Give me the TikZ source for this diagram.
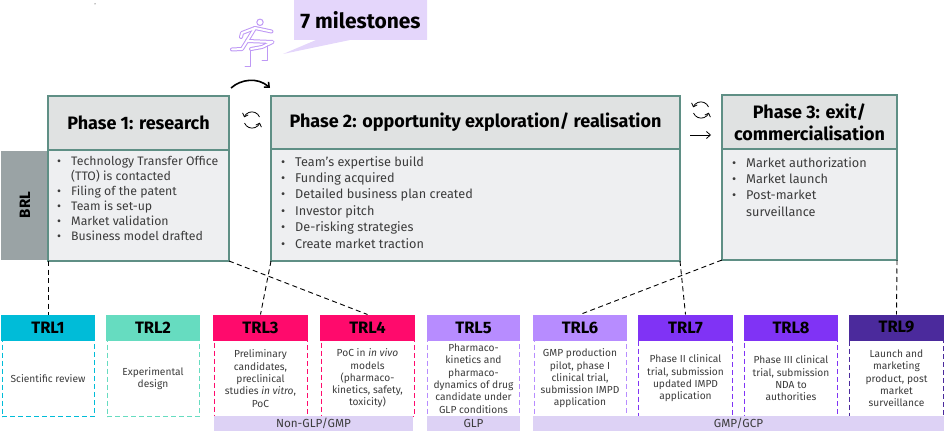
\documentclass[tikz,border=0pt]{standalone}
\usepackage{fontspec}
\setmainfont{Fira Sans}
\usetikzlibrary{arrows.meta,calc}
\definecolor{hdr}{HTML}{E0E2E2}
\definecolor{bodyc}{HTML}{EEEFF1}
\definecolor{edge}{HTML}{5F8F85}
\definecolor{brlc}{HTML}{9AA3A5}
\definecolor{tealc}{HTML}{00BCD8}
\definecolor{mint}{HTML}{66DCC0}
\definecolor{pinkc}{HTML}{FF0A6C}
\definecolor{lilac}{HTML}{B78CFF}
\definecolor{viol}{HTML}{8033F5}
\definecolor{deep}{HTML}{4B2A9C}
\definecolor{band}{HTML}{DDD2F5}
\definecolor{callout}{HTML}{E4D6FB}
\definecolor{icon}{HTML}{BE98F5}
\definecolor{txt}{HTML}{3C3C3C}
\newcommand{\nl}[1]{\makebox[14pt][l]{\textbullet}#1\\}
\newcommand{\nc}[1]{\hspace*{14pt}#1\\}
\tikzset{
 box/.style={draw=edge,line width=1.2pt,anchor=north west,inner sep=0pt,outer sep=0pt},
 phead/.style={box,fill=hdr,font=\fontsize{18}{22}\selectfont\bfseries,align=center,text=black},
 pbody/.style={box,fill=bodyc},
 blist/.style={anchor=north west,inner sep=0pt,align=left,text=txt,font=\fontsize{12.7}{16.4}\selectfont},
 thead/.style={anchor=north west,inner sep=0pt,outer sep=0pt,minimum height=26pt,text=black,font=\fontsize{16.5}{18}\selectfont\bfseries},
 tbody/.style={anchor=north west,inner sep=0pt,outer sep=0pt,minimum height=76pt,fill=white,line width=1pt,dash pattern=on 5pt off 3pt,
   align=center,text=txt,font=\fontsize{10.2}{12.3}\selectfont},
 bandn/.style={anchor=north west,fill=band,inner sep=0pt,outer sep=0pt,minimum height=15pt,text=txt,font=\fontsize{11.7}{12}\selectfont},
 link/.style={draw=black,line width=0.9pt,dash pattern=on 5pt off 3.5pt},
 hurd/.style={line cap=round,line join=round},
}
\newcommand{\cycleicon}[2]{%
 \draw[line width=0.8pt,-{Straight Barb[length=3pt,width=6pt]}] ($(#1,#2)+(7.5,-3)$) arc[start angle=-22,end angle=-160,radius=8.2];
 \draw[line width=0.8pt,-{Straight Barb[length=3pt,width=6pt]}] ($(#1,#2)+(-7.5,3)$) arc[start angle=158,end angle=20,radius=8.2];
}
\begin{document}
\begin{tikzpicture}[x=1pt,y=-1pt]
\useasboundingbox (0,0) rectangle (944,438);
% BRL
\node[anchor=north west,fill=brlc,minimum width=47pt,minimum height=109pt,inner sep=0pt,outer sep=0pt] (brl) at (1,151) {};
\node[rotate=90,font=\fontsize{15}{16}\selectfont\bfseries] (brltext) at (25,205) {BRL};
% Phases
\node[phead,minimum width=181pt,minimum height=54pt] (h1) at (48,96) {Phase 1: research};
\node[pbody,minimum width=181pt,minimum height=111pt] (p1) at (48,150) {};
\node[phead,minimum width=409pt,minimum height=53pt] (h2) at (271,96) {Phase 2: opportunity exploration/ realisation};
\node[pbody,minimum width=409pt,minimum height=112pt] (p2) at (271,149) {};
\node[phead,minimum width=175pt,minimum height=54pt] (h3) at (722,95) {Phase 3: exit/\\commercialisation};
\node[pbody,minimum width=175pt,minimum height=111pt] (p3) at (722,149) {};
\node[blist,font=\fontsize{12.3}{15}\selectfont] (l1) at (57,156.5) {\nl{Technology Transfer Office}\nc{(TTO) is contacted}\nl{Filing of the patent}\nl{Team is set-up}\nl{Market validation}\nl{Business model drafted}};
\node[blist] (l2) at (281,156) {\nl{Team's expertise build}\nl{Funding acquired}\nl{Detailed business plan created}\nl{Investor pitch}\nl{De-risking strategies}\nl{Create market traction}};
\node[blist] (l3) at (732,157) {\nl{Market authorization}\nl{Market launch}\nl{Post-market}\nc{surveillance}};
% TRL heads and bodies
\foreach \nm/\xx/\ww/\cc/\lab in {1/1/94/tealc/TRL1,2/106/94/mint/TRL2,3/213/95/pinkc/TRL3,4/320/95/pinkc/TRL4,5/427/93/lilac/TRL5,6/533/94/lilac/TRL6,7/638/95/viol/TRL7,8/744/94/viol/TRL8,9/849/95/deep/TRL9}{
  \node[thead,fill=\cc,minimum width=\ww pt] (trl\nm) at (\xx,314.5) {\lab};
}
\node[tbody,draw=tealc,minimum width=92pt] (d1) at (2,340.5) {Scientific review};
\node[tbody,draw=mint,minimum width=92pt] (d2) at (107,340.5) {Experimental\\design};
\node[tbody,draw=pinkc,minimum width=93pt] (d3) at (214,340.5) {Preliminary\\candidates,\\preclinical\\studies \emph{in vitro},\\PoC};
\node[tbody,draw=pinkc,minimum width=93pt] (d4) at (321,340.5) {PoC in \emph{in vivo}\\models\\(pharmaco-\\kinetics, safety,\\toxicity)};
\node[tbody,draw=lilac,minimum width=92pt] (d5) at (427.5,340.5) {Pharmaco-\\kinetics and\\pharmaco-\\dynamics of drug\\candidate under\\GLP conditions};
\node[tbody,draw=lilac,minimum width=92pt] (d6) at (534,340.5) {GMP production\\pilot, phase I\\clinical trial,\\submission IMPD\\application};
\node[tbody,draw=viol,minimum width=94pt] (d7) at (638.5,340.5) {Phase II clinical\\trial, submission\\updated IMPD\\application};
\node[tbody,draw=viol,minimum width=93pt] (d8) at (744.5,340.5) {Phase III clinical\\trial, submission\\NDA to\\authorities};
\node[tbody,draw=deep,minimum width=94pt] (d9) at (849.5,340.5) {Launch and\\marketing\\product, post\\market\\surveillance};
% bands
\node[bandn,minimum width=199pt] (b1) at (214,416) {Non-GLP/GMP};
\node[bandn,minimum width=93pt] (b2) at (427,416) {GLP};
\node[bandn,minimum width=411pt] (b3) at (533,416) {GMP/GCP};
% dashed links
\draw[link] (h1.south west |- p1.south) -- (trl1.north);
\draw[link] (p1.south east) -- (trl4.north);
\draw[link] (p2.south west) -- (trl3.north);
\draw[link] (p2.south east) -- (trl7.north);
\draw[link] (p3.south west) -- (trl6.north);
\draw[link] (p3.south east) -- (trl9.north);
% callout
\fill[callout] (294,0) -- (427,0) -- (427,40) -- (350,40) -- (283,54) -- (316,40) -- (294,40) -- cycle;
\node[font=\fontsize{21}{24}\selectfont\bfseries,text=black] (ms) at (360.5,20) {7 milestones};
% arrows between phases
\coordinate (ca) at (231,88);
\coordinate (cb) at (270,88);
\draw[line width=1.6pt,-{Straight Barb[length=4pt,width=7pt]}] (ca) .. controls (241,79) and (258,77) .. (cb);
\cycleicon{252}{120}
\cycleicon{701}{110}
\coordinate (ra) at (690,135);
\coordinate (rb) at (711,135);
\draw[line width=0.8pt,-{Straight Barb[length=4pt,width=7pt]}] (ra) -- (rb);
% hurdler icon
\foreach \w/\c in {4/icon,2/white}{
 \draw[hurd,line width=\w pt,draw=\c] (255,28) -- (271.5,31.5);
 \draw[hurd,line width=\w pt,draw=\c] (255,28) -- (242,33) -- (241,37);
 \draw[hurd,line width=\w pt,draw=\c] (255,28) -- (247,41);
 \draw[hurd,line width=\w pt,draw=\c] (247,41) -- (272.5,42) -- (262,47) -- (251,49);
 \draw[hurd,line width=\w pt,draw=\c] (247,41) -- (242,49) -- (232,49.5);
}
\draw[hurd,line width=1pt,draw=icon] (250,51) -- (250,67) -- (245,67);
\draw[hurd,line width=1pt,draw=icon] (267,46) -- (267,61) -- (262,61);
\draw[line width=1pt,draw=icon] (260,22.3) circle[radius=3.2];
\fill (95,4) circle[radius=0.5];
\end{tikzpicture}
\end{document}
